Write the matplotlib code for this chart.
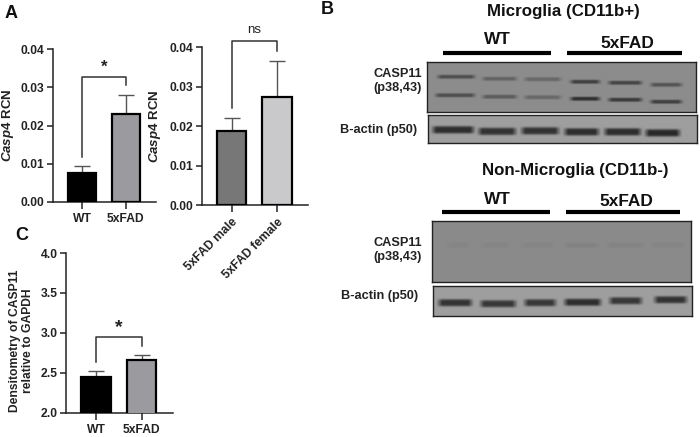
import numpy as np
import matplotlib
matplotlib.use('Agg')
import matplotlib.pyplot as plt

plt.rcParams['font.family'] = ['Liberation Sans', 'DejaVu Sans']
plt.rcParams['font.weight'] = 'bold'
plt.rcParams['axes.labelweight'] = 'bold'
plt.rcParams['mathtext.fontset'] = 'custom'
plt.rcParams['mathtext.it'] = 'Liberation Sans:italic:bold'
plt.rcParams['mathtext.rm'] = 'Liberation Sans:bold'

W, H = 700, 437

# Bar data
a1_labels = ['WT', '5xFAD']
a1_values = [0.0076, 0.0231]
a1_tops = [0.0095, 0.0280]
a1_colors = ['#000000', '#9a9a9f']

a2_labels = ['5xFAD male', '5xFAD female']
a2_values = [0.0188, 0.0273]
a2_tops = [0.0222, 0.0366]
a2_colors = ['#777777', '#c9c9cb']

c_labels = ['WT', '5xFAD']
c_values = [2.45, 2.66]
c_tops = [2.52, 2.72]
c_colors = ['#000000', '#9a9a9f']

# Blot bands: left, right, centre row in figure pixels, darkness
micro_upper = [(435, 477, 76.5, 0.24), (480, 519, 78.5, 0.16), (522, 563, 79, 0.14),
               (568, 602, 81.5, 0.30), (606, 644, 82.5, 0.28), (648, 684, 84.5, 0.22)]
micro_lower = [(433, 477, 95, 0.24), (480, 519, 96.5, 0.19), (522, 563, 97, 0.14),
               (568, 602, 98.5, 0.36), (606, 644, 99.5, 0.32), (648, 684, 101.5, 0.30)]
micro_actin = [(430, 476, 130, 0.44), (476, 518, 131.5, 0.42), (519, 561, 131, 0.42),
               (562, 601, 132, 0.44), (602, 643, 132, 0.44), (643, 682, 133, 0.46)]
non_actin = [(436, 474, 302.5, 0.42), (478, 518, 303.5, 0.40), (522, 558, 302.5, 0.40),
             (562, 603, 302, 0.44), (607, 644, 300.5, 0.40), (652, 689, 299.5, 0.42)]
non_faint = [(446, 470, 245, 0.02), (480, 510, 245, 0.02), (520, 555, 245, 0.02),
             (563, 600, 245, 0.03), (605, 645, 245, 0.025), (650, 685, 245, 0.02)]


def add_axes_px(left, top, right, bottom):
    return fig.add_axes([left / W, 1 - bottom / H, (right - left) / W, (bottom - top) / H])


def bar_panel(box, labels, values, tops, colors, ylim, ticks, fmt):
    ax = add_axes_px(*box)
    x = [0, 1]
    ax.bar(x, values, width=0.65, color=colors, edgecolor='black', linewidth=1.6, zorder=3)
    ax.errorbar(x, values, yerr=[[0, 0], np.array(tops) - np.array(values)], fmt='none',
                ecolor='#555555', elinewidth=1.0, capsize=5.5, capthick=1.0, zorder=2)
    ax.set_xlim(-0.66, 1.69)
    ax.set_ylim(*ylim)
    ax.set_xticks(x)
    ax.set_xticklabels(labels)
    ax.set_yticks(ticks)
    ax.set_yticklabels([fmt % t for t in ticks])
    ax.tick_params(axis='y', length=4, width=1.1, labelsize=8.7, pad=2, color='#222222', labelcolor='#222222')
    ax.tick_params(axis='x', length=5, width=1.1, labelsize=8.7, pad=3, color='#222222', labelcolor='#222222')
    for side in ['top', 'right']:
        ax.spines[side].set_visible(False)
    for side in ['left', 'bottom']:
        ax.spines[side].set_linewidth(1.1)
        ax.spines[side].set_color('#222222')
    ax.patch.set_alpha(0)
    return ax


def place_ylabel(ax, box, x_px, y_px):
    # x_px is the right edge of the rotated label, y_px its centre
    left, top, right, bottom = box
    ax.yaxis.set_label_coords((x_px - left) / (right - left), (bottom - y_px) / (bottom - top))


def bracket(ax, low, top, high, text, text_y, size):
    ax.plot([0, 0, 1, 1], [low, top, top, high], color='#333333', lw=1.1, clip_on=False, zorder=4)
    ax.text(0.5, text_y, text, ha='center', va='center', fontsize=size, color='#222222',
            fontweight='normal' if text == 'ns' else 'bold')


def blot(box, bg, bands, blur=2.0):
    left, top, right, bottom = box
    rows = np.arange(top, bottom, 0.5)[:, None]
    cols = np.arange(left, right, 0.5)[None, :]
    img = np.full((rows.size, cols.size), bg, dtype=float)
    for x0, x1, y, dark in bands:
        across = np.exp(-(((rows - y) / blur) ** 4))
        along = np.clip((cols - x0) / 6, 0, 1) * np.clip((x1 - cols) / 6, 0, 1)
        img -= dark * across * along
    ax = add_axes_px(*box)
    ax.imshow(img, cmap='gray', vmin=0, vmax=1, aspect='auto', interpolation='bilinear')
    ax.set_xticks([])
    ax.set_yticks([])
    for s in ax.spines.values():
        s.set_linewidth(1.0)
        s.set_color('#222222')


fig = plt.figure(figsize=(W / 100, H / 100), dpi=100)

# Panel A, left
box1 = (53, 49.3, 156, 201.7)
ax1 = bar_panel(box1, a1_labels, a1_values, a1_tops, a1_colors,
                (0, 0.04), [0, 0.01, 0.02, 0.03, 0.04], '%.2f')
ax1.set_ylabel(r'$\mathit{Casp4}$ RCN', fontsize=9.5, color='#222222')
place_ylabel(ax1, box1, 16, 125)
bracket(ax1, 0.0118, 0.0328, 0.0305, '*', 0.0352, 12)

# Panel A, right
box2 = (202, 47.3, 308, 205.3)
ax2 = bar_panel(box2, a2_labels, a2_values, a2_tops, a2_colors,
                (0, 0.04), [0, 0.01, 0.02, 0.03, 0.04], '%.2f')
ax2.set_ylabel(r'$\mathit{Casp4}$ RCN', fontsize=9.5, color='#222222')
place_ylabel(ax2, box2, 163, 126)
plt.setp(ax2.get_xticklabels(), rotation=45, ha='right', rotation_mode='anchor')
bracket(ax2, 0.0246, 0.0416, 0.0391, 'ns', 0.0445, 9.5)

# Panel C
box3 = (66, 253, 173, 412.7)
ax3 = bar_panel(box3, c_labels, c_values, c_tops, c_colors,
                (2.0, 4.0), [2.0, 2.5, 3.0, 3.5, 4.0], '%.1f')
ax3.set_ylabel('Densitometry of CASP11\nrelative to GAPDH', fontsize=8.7,
               color='#222222', linespacing=1.1)
place_ylabel(ax3, box3, 34, 341)
bracket(ax3, 2.63, 2.95, 2.835, '*', 3.07, 14)

# Western blots
blot((427, 62, 696, 112), 0.55, micro_upper + micro_lower, blur=2.0)
blot((428, 115, 697, 143), 0.62, micro_actin, blur=3.6)
blot((432, 221, 691, 282), 0.54, non_faint, blur=2.5)
blot((433, 286, 692, 316), 0.62, non_actin, blur=3.6)

# Overlay in figure pixels for text and group lines
ov = fig.add_axes([0, 0, 1, 1], zorder=10)
ov.set_xlim(0, W)
ov.set_ylim(H, 0)
ov.axis('off')

for x0, x1, y in [(443, 551, 52.7), (567, 682, 52.7), (442, 550, 212), (566, 680, 212)]:
    ov.plot([x0, x1], [y, y], color='black', lw=3.0, solid_capstyle='butt')

for label, x, y in [('A', 11, 14), ('B', 327, 10), ('C', 22, 235)]:
    ov.text(x, y, label, fontsize=13, ha='center', va='center', color='#111111')

ov.text(563, 11.5, 'Microglia (CD11b+)', fontsize=12.2, ha='center', va='center', color='#111111')
ov.text(497, 40, 'WT', fontsize=12.4, ha='center', va='center', color='#111111')
ov.text(627, 43, '5xFAD', fontsize=12.4, ha='center', va='center', color='#111111')
ov.text(575, 170, 'Non-Microglia (CD11b-)', fontsize=12.2, ha='center', va='center', color='#111111')
ov.text(497, 199, 'WT', fontsize=12.4, ha='center', va='center', color='#111111')
ov.text(626, 202, '5xFAD', fontsize=12.4, ha='center', va='center', color='#111111')

ov.text(422, 81, 'CASP11\n(p38,43)', fontsize=9.2, ha='right', va='center', color='#222222', linespacing=1.15)
ov.text(417, 130, 'B-actin (p50)', fontsize=9.2, ha='right', va='center', color='#222222')
ov.text(422, 250, 'CASP11\n(p38,43)', fontsize=9.2, ha='right', va='center', color='#222222', linespacing=1.15)
ov.text(418, 296, 'B-actin (p50)', fontsize=9.2, ha='right', va='center', color='#222222')

fig.savefig('out.png', dpi=100)
